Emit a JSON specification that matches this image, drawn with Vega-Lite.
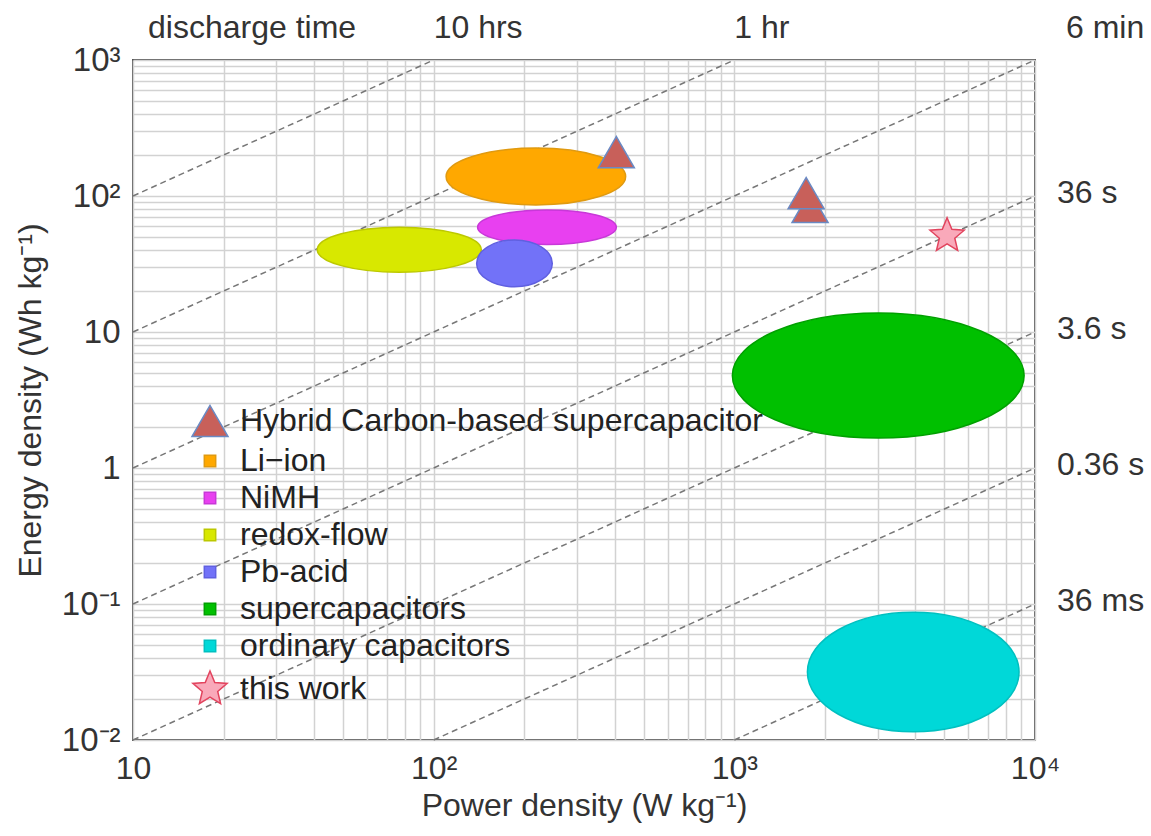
{
  "$schema": "https://vega.github.io/schema/vega-lite/v6.json",
  "width": 902,
  "height": 680,
  "autosize": "none",
  "padding": {"left": 133, "top": 60, "right": 116, "bottom": 96},
  "background": "white",
  "config": {
    "font": "Liberation Sans",
    "view": {"stroke": "#555", "strokeWidth": 2},
    "axis": {"labelFont": "Liberation Sans", "titleFont": "Liberation Sans", "labelColor": "#333", "titleColor": "#333", "titleFontWeight": "normal"}
  },
  "datasets": {
    "lines": [
      {"p1": 10, "e1": 100, "p2": 100, "e2": 1000},
      {"p1": 10, "e1": 10, "p2": 1000, "e2": 1000},
      {"p1": 10, "e1": 1, "p2": 10000, "e2": 1000},
      {"p1": 10, "e1": 0.1, "p2": 10000, "e2": 100},
      {"p1": 10, "e1": 0.01, "p2": 10000, "e2": 10},
      {"p1": 100, "e1": 0.01, "p2": 10000, "e2": 1},
      {"p1": 1000, "e1": 0.01, "p2": 10000, "e2": 0.1}
    ],
    "regions": [
      {"type": "Li−ion", "p_min": 110, "p_max": 435, "e_min": 86, "e_max": 225},
      {"type": "NiMH", "p_min": 140, "p_max": 405, "e_min": 44, "e_max": 79},
      {"type": "redox-flow", "p_min": 41, "p_max": 144, "e_min": 27.5, "e_max": 59},
      {"type": "Pb-acid", "p_min": 139, "p_max": 248, "e_min": 21.5, "e_max": 47.5},
      {"type": "supercapacitors", "p_min": 985, "p_max": 9200, "e_min": 1.66, "e_max": 13.8},
      {"type": "ordinary capacitors", "p_min": 1750, "p_max": 8850, "e_min": 0.0115, "e_max": 0.087}
    ],
    "markers": [
      {"type": "Hybrid Carbon-based supercapacitor", "p": 405, "e": 210},
      {"type": "Hybrid Carbon-based supercapacitor", "p": 1786, "e": 83},
      {"type": "Hybrid Carbon-based supercapacitor", "p": 1733, "e": 105},
      {"type": "this work", "p": 5100, "e": 51}
    ],
    "topMain": [
      {"label": "10 hrs", "p": 100, "e": 1000},
      {"label": "1 hr", "p": 1000, "e": 1000}
    ],
    "topLeft": [{"label": "discharge time", "p": 10, "e": 1000}],
    "topRight": [{"label": "6 min", "p": 10000, "e": 1000}],
    "rightLabels": [
      {"label": "36 s", "p": 10000, "e": 100},
      {"label": "3.6 s", "p": 10000, "e": 10},
      {"label": "0.36 s", "p": 10000, "e": 1},
      {"label": "36 ms", "p": 10000, "e": 0.1}
    ]
  },
  "layer": [
    {
      "data": {"name": "lines"},
      "mark": {"type": "rule", "color": "#777", "strokeDash": [6, 4], "strokeWidth": 1.5},
      "encoding": {
        "x": {
          "field": "p1", "type": "quantitative",
          "scale": {"type": "log", "domain": [10, 10000], "nice": false},
          "axis": {
            "values": [10,20,30,40,50,60,70,80,90,100,200,300,400,500,600,700,800,900,1000,2000,3000,4000,5000,6000,7000,8000,9000,10000],
            "labelExpr": "datum.value == 10 ? '10' : datum.value == 100 ? '10²' : datum.value == 1000 ? '10³' : datum.value == 10000 ? '10⁴' : ''",
            "grid": true, "gridColor": "#d2d2d2", "gridWidth": 1.5,
            "ticks": false, "domain": false,
            "labelOverlap": false, "labelFlush": false, "labelBound": false,
            "labelFontSize": 32, "labelPadding": 13,
            "title": "Power density (W kg⁻¹)", "titleFontSize": 32, "titlePadding": 6
          }
        },
        "y": {
          "field": "e1", "type": "quantitative",
          "scale": {"type": "log", "domain": [0.01, 1000], "nice": false},
          "axis": {
            "values": [0.01,0.02,0.03,0.04,0.05,0.06,0.07,0.08,0.09,0.1,0.2,0.3,0.4,0.5,0.6,0.7,0.8,0.9,1,2,3,4,5,6,7,8,9,10,20,30,40,50,60,70,80,90,100,200,300,400,500,600,700,800,900,1000],
            "labelExpr": "datum.value == 1000 ? '10³' : datum.value == 100 ? '10²' : datum.value == 10 ? '10' : datum.value == 1 ? '1' : datum.value == 0.1 ? '10⁻¹' : datum.value == 0.01 ? '10⁻²' : ''",
            "grid": true, "gridColor": "#d2d2d2", "gridWidth": 1.5,
            "ticks": false, "domain": false,
            "labelOverlap": false, "labelFlush": false, "labelBound": false,
            "labelFontSize": 33, "labelPadding": 13,
            "title": "Energy density (Wh kg⁻¹)", "titleFontSize": 32, "titlePadding": 14
          }
        },
        "x2": {"field": "p2"},
        "y2": {"field": "e2"}
      }
    },
    {
      "data": {"name": "regions"},
      "mark": {
        "type": "point", "filled": true, "opacity": 1, "strokeWidth": 1.5,
        "shape": {"expr": "'M0,'+((scale('y',datum.e_min)-scale('y',datum.e_max))/(scale('x',datum.p_max)-scale('x',datum.p_min)))+'C0,'+(0.4477*((scale('y',datum.e_min)-scale('y',datum.e_max))/(scale('x',datum.p_max)-scale('x',datum.p_min))))+',0.4477,0,1,0C1.5523,0,2,'+(0.4477*((scale('y',datum.e_min)-scale('y',datum.e_max))/(scale('x',datum.p_max)-scale('x',datum.p_min))))+',2,'+((scale('y',datum.e_min)-scale('y',datum.e_max))/(scale('x',datum.p_max)-scale('x',datum.p_min)))+'C2,'+(1.5523*((scale('y',datum.e_min)-scale('y',datum.e_max))/(scale('x',datum.p_max)-scale('x',datum.p_min))))+',1.5523,'+(2*((scale('y',datum.e_min)-scale('y',datum.e_max))/(scale('x',datum.p_max)-scale('x',datum.p_min))))+',1,'+(2*((scale('y',datum.e_min)-scale('y',datum.e_max))/(scale('x',datum.p_max)-scale('x',datum.p_min))))+'C0.4477,'+(2*((scale('y',datum.e_min)-scale('y',datum.e_max))/(scale('x',datum.p_max)-scale('x',datum.p_min))))+',0,'+(1.5523*((scale('y',datum.e_min)-scale('y',datum.e_max))/(scale('x',datum.p_max)-scale('x',datum.p_min))))+',0,'+((scale('y',datum.e_min)-scale('y',datum.e_max))/(scale('x',datum.p_max)-scale('x',datum.p_min)))+'Z'"},
        "size": {"expr": "pow(scale('x',datum.p_max)-scale('x',datum.p_min),2)"}
      },
      "encoding": {
        "x": {"field": "p_min", "type": "quantitative"},
        "y": {"field": "e_max", "type": "quantitative"},
        "color": {
          "field": "type", "type": "nominal",
          "scale": {
            "domain": ["Hybrid Carbon-based supercapacitor", "Li−ion", "NiMH", "redox-flow", "Pb-acid", "supercapacitors", "ordinary capacitors", "this work"],
            "range": ["#c8605a", "#ffa800", "#e840f0", "#d8e800", "#7272f8", "#00c000", "#00d8d8", "#f9a9ba"]
          },
          "legend": {"title": null, "orient": "none", "legendX": 58, "legendY": 342, "padding": 0, "labelFontSize": 32, "labelFont": "Liberation Sans", "labelColor": "#222", "labelOffset": 11, "rowPadding": 5, "symbolStrokeWidth": 1.5, "labelLimit": 700, "symbolType": "square"}
        },
        "stroke": {
          "field": "type", "type": "nominal",
          "scale": {
            "domain": ["Hybrid Carbon-based supercapacitor", "Li−ion", "NiMH", "redox-flow", "Pb-acid", "supercapacitors", "ordinary capacitors", "this work"],
            "range": ["#6a8ac4", "#e09a10", "#c838d8", "#bcc800", "#6060e0", "#00a000", "#00c0c0", "#e2445e"]
          },
          "legend": {"title": null, "orient": "none", "legendX": 58, "legendY": 342, "padding": 0, "labelFontSize": 32, "labelFont": "Liberation Sans", "labelColor": "#222", "labelOffset": 11, "rowPadding": 5, "symbolStrokeWidth": 1.5, "labelLimit": 700, "symbolType": "square"}
        }
      }
    },
    {
      "data": {"name": "markers"},
      "mark": {"type": "point", "filled": true, "opacity": 1, "strokeWidth": 1.5},
      "encoding": {
        "x": {"field": "p", "type": "quantitative"},
        "y": {"field": "e", "type": "quantitative"},
        "color": {
          "field": "type", "type": "nominal",
          "scale": {
            "domain": ["Hybrid Carbon-based supercapacitor", "Li−ion", "NiMH", "redox-flow", "Pb-acid", "supercapacitors", "ordinary capacitors", "this work"],
            "range": ["#c8605a", "#ffa800", "#e840f0", "#d8e800", "#7272f8", "#00c000", "#00d8d8", "#f9a9ba"]
          },
          "legend": {"title": null, "orient": "none", "legendX": 58, "legendY": 342, "padding": 0, "labelFontSize": 32, "labelFont": "Liberation Sans", "labelColor": "#222", "labelOffset": 11, "rowPadding": 5, "symbolStrokeWidth": 1.5, "labelLimit": 700}
        },
        "shape": {
          "field": "type", "type": "nominal",
          "scale": {
            "domain": ["Hybrid Carbon-based supercapacitor", "Li−ion", "NiMH", "redox-flow", "Pb-acid", "supercapacitors", "ordinary capacitors", "this work"],
            "range": ["triangle-up", "square", "square", "square", "square", "square", "square", "M0,-1L0.2645,-0.364L0.951,-0.309L0.428,0.139L0.588,0.809L0,0.45L-0.588,0.809L-0.428,0.139L-0.951,-0.309L-0.2645,-0.364Z"]
          },
          "legend": {"title": null, "orient": "none", "legendX": 58, "legendY": 342, "padding": 0, "labelFontSize": 32, "labelFont": "Liberation Sans", "labelColor": "#222", "labelOffset": 11, "rowPadding": 5, "symbolStrokeWidth": 1.5, "labelLimit": 700}
        },
        "size": {
          "field": "type", "type": "nominal",
          "scale": {
            "type": "ordinal",
            "domain": ["Hybrid Carbon-based supercapacitor", "Li−ion", "NiMH", "redox-flow", "Pb-acid", "supercapacitors", "ordinary capacitors", "this work"],
            "range": [1300, 130, 130, 130, 130, 130, 130, 1300]
          },
          "legend": {"title": null, "orient": "none", "legendX": 58, "legendY": 342, "padding": 0, "labelFontSize": 32, "labelFont": "Liberation Sans", "labelColor": "#222", "labelOffset": 11, "rowPadding": 5, "symbolStrokeWidth": 1.5, "labelLimit": 700}
        },
        "stroke": {
          "field": "type", "type": "nominal",
          "scale": {
            "domain": ["Hybrid Carbon-based supercapacitor", "Li−ion", "NiMH", "redox-flow", "Pb-acid", "supercapacitors", "ordinary capacitors", "this work"],
            "range": ["#6a8ac4", "#e09a10", "#c838d8", "#bcc800", "#6060e0", "#00a000", "#00c0c0", "#e2445e"]
          },
          "legend": {"title": null, "orient": "none", "legendX": 58, "legendY": 342, "padding": 0, "labelFontSize": 32, "labelFont": "Liberation Sans", "labelColor": "#222", "labelOffset": 11, "rowPadding": 5, "symbolStrokeWidth": 1.5, "labelLimit": 700}
        }
      }
    },
    {
      "data": {"name": "topMain"},
      "mark": {"type": "text", "align": "left", "baseline": "middle", "dy": -32, "fontSize": 32, "color": "#333", "font": "Liberation Sans"},
      "encoding": {
        "x": {"field": "p", "type": "quantitative"},
        "y": {"field": "e", "type": "quantitative"},
        "text": {"field": "label"}
      }
    },
    {
      "data": {"name": "topLeft"},
      "mark": {"type": "text", "align": "left", "baseline": "middle", "dx": 15, "dy": -32, "fontSize": 32, "color": "#333", "font": "Liberation Sans"},
      "encoding": {
        "x": {"field": "p", "type": "quantitative"},
        "y": {"field": "e", "type": "quantitative"},
        "text": {"field": "label"}
      }
    },
    {
      "data": {"name": "topRight"},
      "mark": {"type": "text", "align": "left", "baseline": "middle", "dx": 31, "dy": -32, "fontSize": 32, "color": "#333", "font": "Liberation Sans"},
      "encoding": {
        "x": {"field": "p", "type": "quantitative"},
        "y": {"field": "e", "type": "quantitative"},
        "text": {"field": "label"}
      }
    },
    {
      "data": {"name": "rightLabels"},
      "mark": {"type": "text", "align": "left", "baseline": "middle", "dx": 22, "dy": -3, "fontSize": 32, "color": "#333", "font": "Liberation Sans"},
      "encoding": {
        "x": {"field": "p", "type": "quantitative"},
        "y": {"field": "e", "type": "quantitative"},
        "text": {"field": "label"}
      }
    }
  ]
}
